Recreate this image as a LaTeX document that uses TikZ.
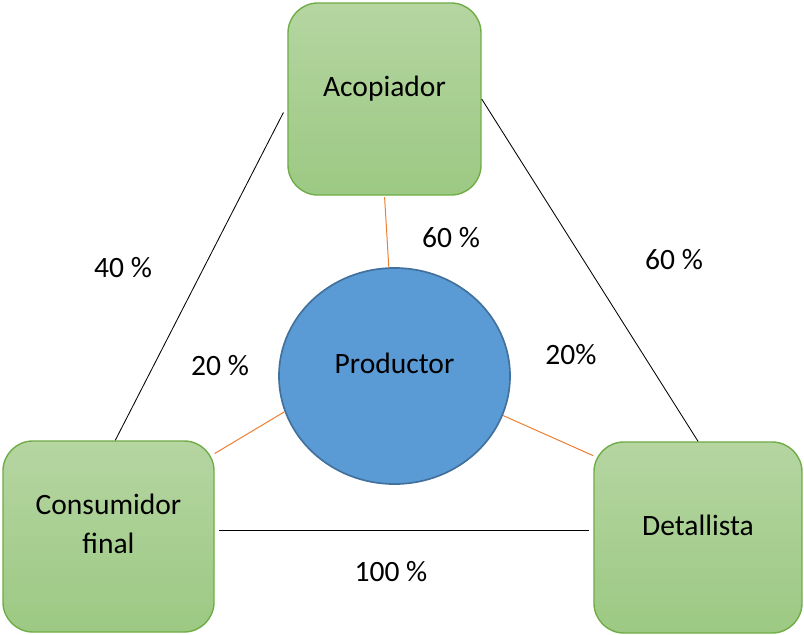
\documentclass[tikz,border=0pt]{standalone}
\usepackage{fontspec}
\setmainfont{Carlito}
\usetikzlibrary{shapes.geometric}
\definecolor{boxtop}{HTML}{B5D5A1}
\definecolor{boxbottom}{HTML}{9CC983}
\definecolor{boxline}{HTML}{70AD47}
\definecolor{prodfill}{HTML}{5B9BD5}
\definecolor{prodline}{HTML}{41719C}
\definecolor{linkorange}{HTML}{ED7D31}
\begin{document}
\begin{tikzpicture}[
        x=0.025cm, y=-0.025cm,
        font=\fontsize{21}{27.5}\selectfont,
        box/.style={rectangle, draw=boxline, line width=1pt, rounded corners=0.75cm, top color=boxtop, bottom color=boxbottom, align=center, inner sep=0pt, text depth=18pt},
        core/.style={ellipse, draw=prodline, line width=1.2pt, fill=prodfill, minimum width=5.775cm, minimum height=5.4cm, inner sep=0pt, text depth=18pt},
        share/.style={inner sep=0pt},
        link/.style={line width=0.6pt},
        feed/.style={line width=0.7pt, linkorange}
    ]
    \useasboundingbox (0,0) rectangle (804,634);

    % Central producer
    \node[core] (prod) at (394.5,376) {Productor};

    % Market agents
    \node[box, minimum width=4.825cm, minimum height=4.8cm] (acop) at (384.5,99) {Acopiador};
    \node[box, minimum width=5.275cm, minimum height=4.775cm] (cons) at (108.5,536.5) {Consumidor\\final};
    \node[box, minimum width=5.2cm, minimum height=4.775cm] (det) at (698,537.5) {Detallista};

    % Links between agents
    \draw[link, shorten <=6pt] ([yshift=-0.15cm]acop.west) -- ([xshift=0.17cm]cons.north);
    \draw[link] (acop.east) -- (det.north);
    \draw[link, shorten <=3pt, shorten >=3pt] ([yshift=0.16cm]cons.east) -- ([yshift=0.16cm]cons.east -| det.west);

    % Links to the producer
    \draw[feed, shorten <=1pt] (acop.south) -- (prod.93);
    \draw[feed] (cons.38) -- (prod.198);
    \draw[feed] (prod.-20) -- (det.142);

    % Shares
    \node[share] (s1) at (451,238) {60 \%};
    \node[share] (s2) at (123,268) {40 \%};
    \node[share] (s3) at (674,260) {60 \%};
    \node[share] (s4) at (220,366) {20 \%};
    \node[share] (s5) at (571,355) {20\%};
    \node[share] (s6) at (391,572) {100 \%};

\end{tikzpicture}
\end{document}
